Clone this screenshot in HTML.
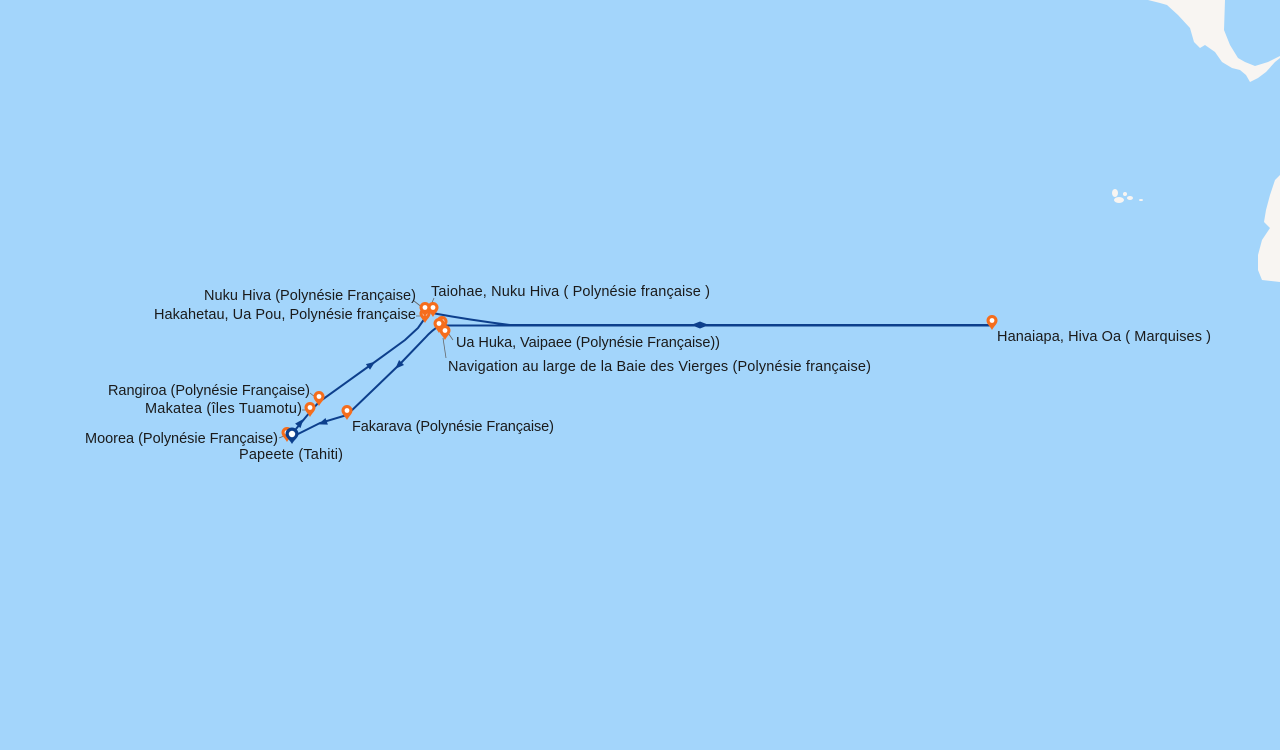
<!DOCTYPE html>
<html><head><meta charset="utf-8"><style>
html,body{margin:0;padding:0;width:1280px;height:750px;overflow:hidden;background:#a3d5fb}
text{font-family:"Liberation Sans",sans-serif;font-size:14.5px;fill:#1a1a1a}
</style></head><body>
<svg width="1280" height="750" viewBox="0 0 1280 750" xmlns="http://www.w3.org/2000/svg">
<defs>
<g id="m"><path d="M0,0 C-2,-4 -5.5,-6 -5.5,-9.5 A5.5,5.5 0 1 1 5.5,-9.5 C5.5,-6 2,-4 0,0Z" fill="#f56d1c"/><circle cx="0" cy="-9.5" r="2.4" fill="#fff"/></g>
<path id="ar" d="M-5,-3.5 L4,0 L-5,3.5Z" fill="#0d3f8c"/>
</defs>
<rect width="1280" height="750" fill="#a3d5fb"/>
<path d="M1148,0 L1160,3 L1167,5 L1178,15 L1190,28 L1194,42 L1200,48 L1205,45 L1215,52 L1222,62 L1232,68 L1240,70 L1246,75 L1250,82 L1258,78 L1266,72 L1275,62 L1280,58 L1280,56 L1268,62 L1255,66 L1245,62 L1238,58 L1230,45 L1224,30 L1225,0Z" fill="#f8f5f2"/>
<path d="M1280,175 L1275,180 L1270,195 L1266,210 L1264,222 L1270,228 L1262,240 L1258,255 L1258,270 L1262,280 L1280,282Z" fill="#f8f5f2"/>
<g fill="#f8f5f2"><ellipse cx="1115" cy="193" rx="3" ry="4"/><ellipse cx="1119" cy="200" rx="5" ry="3"/><ellipse cx="1125" cy="194" rx="2" ry="2"/><ellipse cx="1130" cy="198" rx="3" ry="2"/><ellipse cx="1141" cy="200" rx="2" ry="1"/></g>
<g fill="none" stroke="#0d3f8c" stroke-width="2">
<path d="M291,435 L310,412 L319,402 L372,364 L405,340 L418,328 L425,318"/>
<path d="M432,313 Q470,320 510,325 L992,325"/>
<path d="M992,325.5 L440,325.5 Q432,330 425,338 L400,364 L347,415 L320,423 L292,437"/>
</g>
<use href="#ar" transform="translate(372,364) rotate(-36)"/>
<use href="#ar" transform="translate(301,422) rotate(-50)"/>
<use href="#ar" transform="translate(398,366) rotate(135)"/>
<use href="#ar" transform="translate(322,423) rotate(160)"/>
<use href="#ar" transform="translate(695,325) rotate(180)"/>
<use href="#ar" transform="translate(705,325)"/>
<g stroke="#666" stroke-width="0.8">
<line x1="414" y1="301" x2="423" y2="308"/><line x1="434" y1="298" x2="431" y2="305"/>
<line x1="416" y1="316" x2="421" y2="316"/><line x1="453" y1="340" x2="446" y2="330"/>
<line x1="446" y1="358" x2="443" y2="338"/><line x1="310" y1="393" x2="315" y2="397"/>
<line x1="302" y1="410" x2="306" y2="410"/><line x1="279" y1="438" x2="284" y2="436"/>
</g>
<use href="#m" x="319" y="406"/><use href="#m" x="310" y="417"/><use href="#m" x="347" y="420"/>
<use href="#m" x="287" y="442"/>
<use href="#m" x="425" y="323"/><use href="#m" x="425" y="317"/><use href="#m" x="433" y="317"/>
<use href="#m" x="442" y="331"/><use href="#m" x="439" y="333"/><use href="#m" x="445" y="340"/>
<use href="#m" x="992" y="330"/>
<path d="M292,444 C290,440 285.5,437.5 285.5,434 A6.5,6.5 0 1 1 298.5,434 C298.5,437.5 294,440 292,444Z" fill="#0d3f8c"/><circle cx="292" cy="434" r="3.2" fill="#fff"/>
<text x="416" y="300" text-anchor="end" textLength="212">Nuku Hiva (Polynésie Française)</text>
<text x="431" y="296" textLength="279">Taiohae, Nuku Hiva ( Polynésie française )</text>
<text x="416" y="319" text-anchor="end" textLength="262">Hakahetau, Ua Pou, Polynésie française</text>
<text x="456" y="347" textLength="264">Ua Huka, Vaipaee (Polynésie Française))</text>
<text x="448" y="371" textLength="423">Navigation au large de la Baie des Vierges (Polynésie française)</text>
<text x="997" y="341" textLength="214">Hanaiapa, Hiva Oa ( Marquises )</text>
<text x="310" y="395" text-anchor="end" textLength="202">Rangiroa (Polynésie Française)</text>
<text x="302" y="413" text-anchor="end" textLength="157">Makatea (îles Tuamotu)</text>
<text x="352" y="431" textLength="202">Fakarava (Polynésie Française)</text>
<text x="278" y="443" text-anchor="end" textLength="193">Moorea (Polynésie Française)</text>
<text x="239" y="459" textLength="104">Papeete (Tahiti)</text>
</svg>
</body></html>
